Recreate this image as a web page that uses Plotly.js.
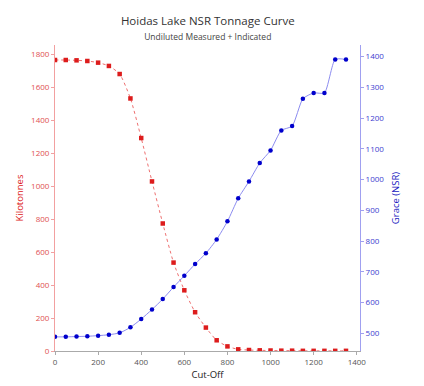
<!DOCTYPE html>
<html>
<head>
<meta charset="utf-8">
<script src="https://cdn.plot.ly/plotly-3.0.1.min.js"></script>
<style>html,body{margin:0;padding:0;background:#fff;}#chart{width:424px;height:386px;}</style>
</head>
<body>
<div id="chart"></div>
<script>
const cutoff = [0,50,100,150,200,250,300,350,400,450,500,550,600,650,700,750,800,850,900,950,1000,1050,1100,1150,1200,1250,1300,1350];
const kilotonnes = [1764,1764,1762,1758,1748,1728,1679,1531,1291,1028,773,536,368,235,142,65,28,10,6,4,3,2,2,1,1,1,1,1];
const grade = [488,488,489,490,492,495,501,519,546,577,611,650,687,725,760,805,864,939,994,1054,1095,1160,1174,1263,1282,1282,1391,1391];

const red = '#dd1c1c', redLight = '#ee7070', blue = '#0000cc', blueLight = '#8c8cf0';
const font = 'Open Sans, Noto Sans, sans-serif';

const traces = [
  {x: cutoff, y: kilotonnes, type: 'scatter', mode: 'lines+markers', name: 'Kilotonnes',
   line: {color: redLight, width: 1, dash: 'dot', shape: 'spline', smoothing: 0.6},
   marker: {symbol: 'square', size: 4.5, color: red}},
  {x: cutoff, y: grade, type: 'scatter', mode: 'lines+markers', name: 'Grace (NSR)', yaxis: 'y2',
   line: {color: blueLight, width: 1, shape: 'spline', smoothing: 0.6},
   marker: {symbol: 'circle', size: 4.5, color: blue}}
];

const layout = {
  width: 424, height: 386,
  margin: {l: 55, r: 64, t: 45, b: 35},
  paper_bgcolor: '#fff', plot_bgcolor: '#fff',
  showlegend: false,
  font: {family: font, size: 8, color: '#555'},
  title: {text: 'Hoidas Lake NSR Tonnage Curve<br><span style="font-size:8.5px;color:#444">Undiluted Measured + Indicated</span>',
          font: {family: font, size: 11.5, color: '#333'}, x: 0.49, xanchor: 'center', y: 0.934, yanchor: 'top'},
  xaxis: {range: [0, 1415], dtick: 200, showgrid: false, zeroline: false,
          showline: true, linecolor: '#aaa', linewidth: 1, ticks: 'outside', ticklen: 3, tickcolor: '#aaa',
          tickfont: {size: 8, color: '#555'},
          title: {text: 'Cut-Off', font: {size: 9.5, color: '#222'}, standoff: 5}},
  yaxis: {range: [0, 1855], dtick: 200, showgrid: false, zeroline: false,
          showline: true, linecolor: '#f2a0a0', linewidth: 1, ticks: 'outside', ticklen: 3, tickcolor: '#f2a0a0',
          tickfont: {size: 8, color: '#e05050'},
          title: {text: 'Kilotonnes', font: {size: 9.5, color: '#dd2020'}, standoff: 5}},
  yaxis2: {range: [442, 1438], dtick: 100, overlaying: 'y', side: 'right', showgrid: false, zeroline: false,
           showline: true, linecolor: '#a0a0f0', linewidth: 1, ticks: 'outside', ticklen: 3, tickcolor: '#a0a0f0',
           tickfont: {size: 8, color: '#4040d0'},
           title: {text: 'Grace (NSR)', font: {size: 9.5, color: '#2020c0'}, standoff: 9}}
};

Plotly.newPlot('chart', traces, layout, {displayModeBar: false, staticPlot: true});
</script>
</body>
</html>
